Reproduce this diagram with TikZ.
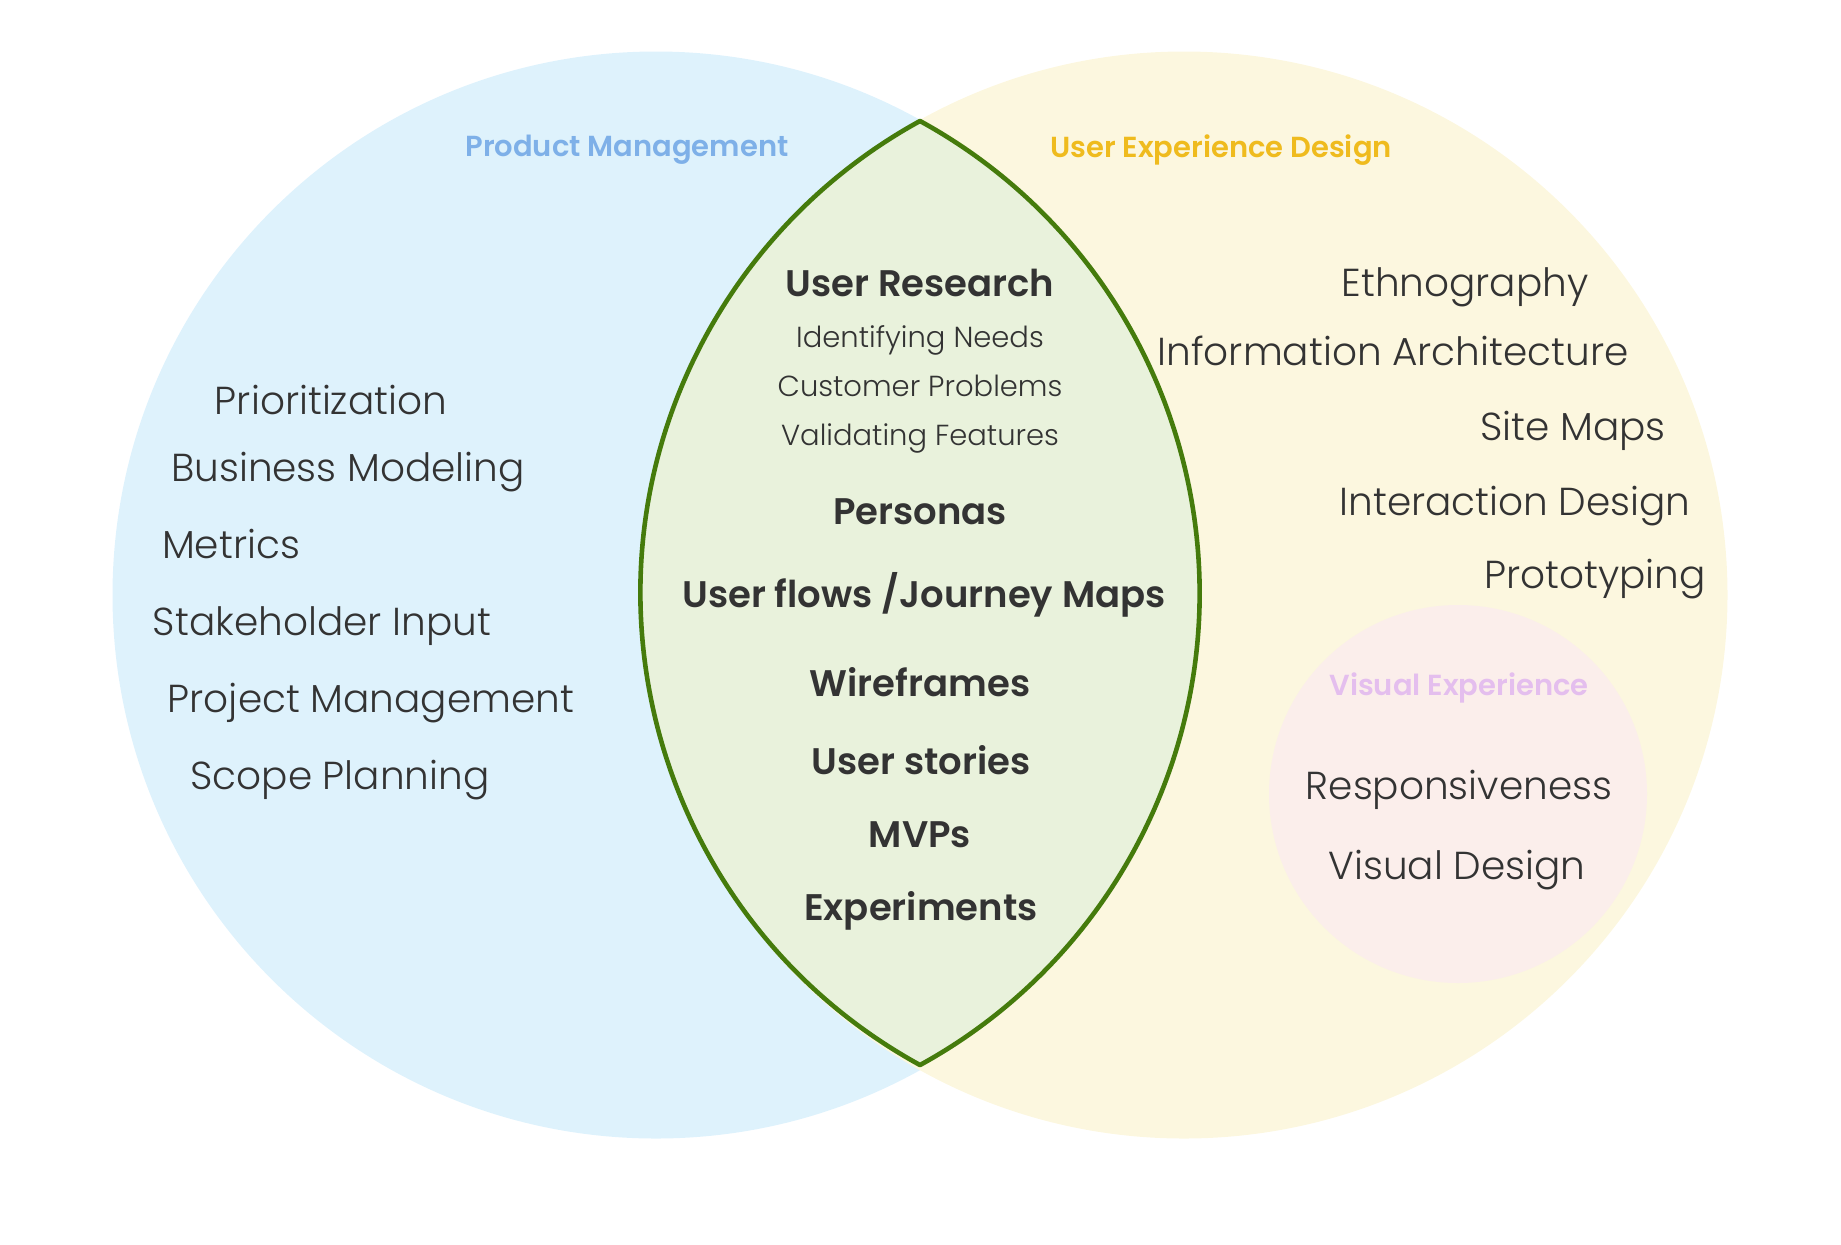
\documentclass[tikz,border=0pt]{standalone}
\usepackage{fontspec}
\setmainfont{Poppins Light}[BoldFont=Poppins SemiBold]
\definecolor{pmblue}{HTML}{DEF2FC}
\definecolor{uxyellow}{HTML}{FCF7DF}
\definecolor{lensgreen}{HTML}{E9F2DC}
\definecolor{lensline}{HTML}{457B0C}
\definecolor{vxpink}{HTML}{FBEEEB}
\definecolor{pmtitle}{HTML}{7EB0E8}
\definecolor{uxtitle}{HTML}{EFBB1E}
\definecolor{vxtitle}{HTML}{E4BEEE}
\definecolor{inktext}{HTML}{333333}
\tikzset{
  title/.style={font=\bfseries\fontsize{14.5}{16}\selectfont},
  item/.style={text=inktext,font=\fontsize{19.5}{22}\selectfont},
  small/.style={text=inktext,font=\fontsize{14.5}{17}\selectfont},
  topic/.style={text=inktext,font=\bfseries\fontsize{18.5}{20}\selectfont}
}
\begin{document}
\begin{tikzpicture}[x=0.5pt,y=-0.5pt]
	\useasboundingbox (0,0) rectangle (1841,1244);
	\fill[pmblue] (656,595) circle [radius=271.75pt];
	\fill[uxyellow] (1184,595) circle [radius=271.75pt];
	\fill[vxpink] (1458,794) circle [radius=94.5pt];
	\draw[lensline,fill=lensgreen,line width=2.3pt,line join=round] (920,121) arc[start angle=61.27,end angle=-61.27,radius=269.15pt] arc[start angle=241.27,end angle=118.73,radius=269.15pt] -- cycle;
	\node[title,text=pmtitle] (pm) at (627,150) {Product Management};
	\node[title,text=uxtitle] (ux) at (1221,150) {User Experience Design};
	\node[title,text=vxtitle] (vx) at (1459,688) {Visual Experience};
	% left
	\node[item] (a1) at (331,400) {Prioritization};
	\node[item] (a2) at (348,472) {Business Modeling};
	\node[item] (a3) at (231,544) {Metrics};
	\node[item] (a4) at (322,626) {Stakeholder Input};
	\node[item] (a5) at (371,703) {Project Management};
	\node[item] (a6) at (340,780) {Scope Planning};
	% middle
	\node[topic] (b1) at (920,283) {User Research};
	\node[small] (b2) at (920,340) {Identifying Needs};
	\node[small] (b3) at (920,386) {Customer Problems};
	\node[small] (b4) at (920,438) {Validating Features};
	\node[topic] (b5) at (920,512) {Personas};
	\node[topic] (b6) at (924,595) {User flows /Journey Maps};
	\node[topic] (b7) at (920,682) {Wireframes};
	\node[topic] (b8) at (921,760) {User stories};
	\node[topic] (b9) at (920,835) {MVPs};
	\node[topic] (b10) at (921,911) {Experiments};
	% right
	\node[item] (c1) at (1465,287) {Ethnography};
	\node[item] (c2) at (1393,351) {Information Architecture};
	\node[item] (c3) at (1573,431) {Site Maps};
	\node[item] (c4) at (1515,506) {Interaction Design};
	\node[item] (c5) at (1595,579) {Prototyping};
	\node[item] (c6) at (1459,790) {Responsiveness};
	\node[item] (c7) at (1457,870) {Visual Design};
\end{tikzpicture}
\end{document}
